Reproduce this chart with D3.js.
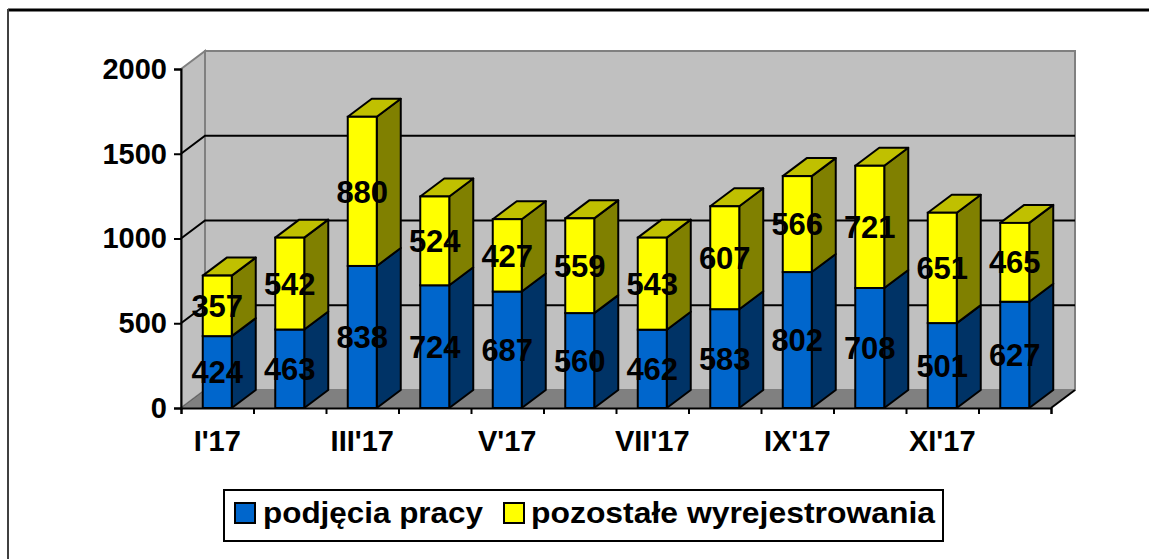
<!DOCTYPE html>
<html>
<head>
<meta charset="utf-8">
<script src="https://cdn.jsdelivr.net/npm/d3@7"></script>
<style>
  body { margin: 0; background: #fff; }
  text { font-family: "Liberation Sans", Arial, sans-serif; font-weight: bold; fill: #000; }
</style>
</head>
<body>
<div id="vis"></div>
<script>
// months and tick labels
var months = ["I'17", "II'17", "III'17", "IV'17", "V'17", "VI'17", "VII'17", "VIII'17", "IX'17", "X'17", "XI'17", "XII'17"];
var shownLabels = ["I'17", "III'17", "V'17", "VII'17", "IX'17", "XI'17"];
var yTicks = [0, 500, 1000, 1500, 2000];

// series values
var podjecia = [424, 463, 838, 724, 687, 560, 462, 583, 802, 708, 501, 627];
var pozostale = [357, 542, 880, 524, 427, 559, 543, 607, 566, 721, 651, 465];

var seriesNames = ["podjęcia pracy", "pozostałe wyrejestrowania"];

var width = 1149, height = 559;
var dx = 24, dy = -18;   // depth offset of the 3d box
var plot = { left: 181, right: 1051, bottom: 408, top: 69 };
var barW = 29;

var svg = d3.select('#vis')
    .append('svg')
    .attr('width', width)
    .attr('height', height);

// outer frame
svg.append('line').attr('x1', 8).attr('y1', 10).attr('x2', width).attr('y2', 10)
    .attr('stroke', '#000').attr('stroke-width', 3);
svg.append('line').attr('x1', 8).attr('y1', 9).attr('x2', 8).attr('y2', height)
    .attr('stroke', '#404040').attr('stroke-width', 2);

var x_scale = d3.scaleBand()
    .domain(months)
    .range([plot.left, plot.right])
    .padding(0);

var y_scale = d3.scaleLinear()
    .domain([0, 2000])
    .range([plot.bottom, plot.top]);

function pts(arr) {
    return arr.map(function(p) { return p[0] + ',' + p[1]; }).join(' ');
}

var yTop = y_scale(2000), y0 = y_scale(0);
var L = plot.left, R = plot.right;

// back wall
svg.append('polygon')
    .attr('points', pts([[L + dx, yTop + dy], [R + dx, yTop + dy], [R + dx, y0 + dy], [L + dx, y0 + dy]]))
    .attr('fill', '#c0c0c0').attr('stroke', '#808080').attr('stroke-width', 2);
// side wall
svg.append('polygon')
    .attr('points', pts([[L, yTop], [L + dx, yTop + dy], [L + dx, y0 + dy], [L, y0]]))
    .attr('fill', '#c0c0c0').attr('stroke', '#808080').attr('stroke-width', 2);
// floor
svg.append('polygon')
    .attr('points', pts([[L, y0], [L + dx, y0 + dy], [R + dx, y0 + dy], [R, y0]]))
    .attr('fill', '#808080').attr('stroke', '#808080').attr('stroke-width', 1);
svg.append('line')
    .attr('x1', R).attr('y1', y0).attr('x2', R + dx).attr('y2', y0 + dy)
    .attr('stroke', '#000').attr('stroke-width', 2);
svg.append('line')
    .attr('x1', L).attr('y1', y0).attr('x2', L + dx).attr('y2', y0 + dy)
    .attr('stroke', '#606060').attr('stroke-width', 1);

// gridlines
var grid = svg.append('g');
yTicks.filter(function(v) { return v > 0 && v < 2000; }).forEach(function(v) {
    var y = y_scale(v);
    grid.append('polyline')
        .attr('points', pts([[L, y], [L + dx, y + dy], [R + dx, y + dy]]))
        .attr('fill', 'none').attr('stroke', '#000').attr('stroke-width', 2);
});

// bars
var stacked = months.map(function(m, i) {
    return { m: m, a: podjecia[i], b: pozostale[i] };
});

function drawBox(g, x0, yLow, yHigh, face, side, topCol, withTop) {
    var x1 = x0 + barW;
    g.append('polygon')
        .attr('points', pts([[x1, yHigh], [x1 + dx, yHigh + dy], [x1 + dx, yLow + dy], [x1, yLow]]))
        .attr('fill', side).attr('stroke', '#000').attr('stroke-width', 2).attr('stroke-linejoin', 'round');
    if (withTop) {
        g.append('polygon')
            .attr('points', pts([[x0, yHigh], [x0 + dx, yHigh + dy], [x1 + dx, yHigh + dy], [x1, yHigh]]))
            .attr('fill', topCol).attr('stroke', '#000').attr('stroke-width', 2).attr('stroke-linejoin', 'round');
    }
    g.append('rect')
        .attr('x', x0).attr('y', yHigh)
        .attr('width', barW).attr('height', yLow - yHigh)
        .attr('fill', face).attr('stroke', '#000').attr('stroke-width', 2);
}

var bars = svg.append('g');
stacked.forEach(function(d) {
    var cx = x_scale(d.m) + x_scale.bandwidth() / 2;
    var x0 = cx - barW / 2;
    var g = bars.append('g');
    drawBox(g, x0, y_scale(0), y_scale(d.a), '#0066cc', '#003366', '#003399', false);
    drawBox(g, x0, y_scale(d.a), y_scale(d.a + d.b), '#ffff00', '#808000', '#c0c000', true);
});

// data labels
var labels = svg.append('g').style('font-size', '31px');
stacked.forEach(function(d) {
    var cx = x_scale(d.m) + x_scale.bandwidth() / 2;
    labels.append('text')
        .attr('x', cx).attr('y', (y_scale(0) + y_scale(d.a)) / 2)
        .attr('text-anchor', 'middle').attr('dy', '0.36em')
        .text(d.a);
    labels.append('text')
        .attr('x', cx).attr('y', (y_scale(d.a) + y_scale(d.a + d.b)) / 2)
        .attr('text-anchor', 'middle').attr('dy', '0.36em')
        .text(d.b);
});

// y axis
var y_axis = d3.axisLeft(y_scale).tickValues(yTicks).tickSize(7).tickPadding(7).tickFormat(d3.format('d'));
var yg = svg.append('g')
    .attr('class', 'y axis')
    .attr('transform', 'translate(' + L + ',0)')
    .call(y_axis);
yg.select('.domain').attr('stroke', '#000').attr('stroke-width', 2);
yg.selectAll('.tick line').attr('stroke', '#000').attr('stroke-width', 2);
yg.selectAll('.tick text')
    .style('font-size', '29px').style('font-family', '"Liberation Sans", Arial, sans-serif')
    .style('font-weight', 'bold').attr('fill', '#000');

// x axis: ticks on category boundaries, every other label
var edge = d3.scaleLinear().domain([0, months.length]).range([L, R]);
var xg = svg.append('g')
    .attr('class', 'x axis')
    .attr('transform', 'translate(0,' + plot.bottom + ')')
    .call(d3.axisBottom(edge).tickValues(d3.range(0, months.length + 1)).tickSize(6).tickFormat(''));
xg.select('.domain').attr('stroke', '#000').attr('stroke-width', 2);
xg.selectAll('.tick line').attr('stroke', '#000').attr('stroke-width', 2);

svg.append('g').style('font-size', '29px')
    .selectAll('text')
    .data(shownLabels)
    .enter()
    .append('text')
    .attr('x', function(d) { return x_scale(d) + x_scale.bandwidth() / 2; })
    .attr('y', 451)
    .attr('text-anchor', 'middle')
    .text(function(d) { return d; });

// legend
var legend = svg.append('g');
legend.append('rect')
    .attr('x', 224).attr('y', 490).attr('width', 719).attr('height', 51)
    .attr('fill', '#fff').attr('stroke', '#000').attr('stroke-width', 2);
var legendItems = [
    { name: seriesNames[0], color: '#0066cc', sx: 235, tx: 263, tw: 220 },
    { name: seriesNames[1], color: '#ffff00', sx: 504, tx: 531, tw: 404 }
];
legendItems.forEach(function(it) {
    legend.append('rect')
        .attr('x', it.sx).attr('y', 503).attr('width', 20).attr('height', 20)
        .attr('fill', it.color).attr('stroke', '#000').attr('stroke-width', 2);
    legend.append('text')
        .attr('x', it.tx).attr('y', 523)
        .style('font-size', '30px')
        .attr('textLength', it.tw).attr('lengthAdjust', 'spacingAndGlyphs')
        .text(it.name);
});
</script>
</body>
</html>
